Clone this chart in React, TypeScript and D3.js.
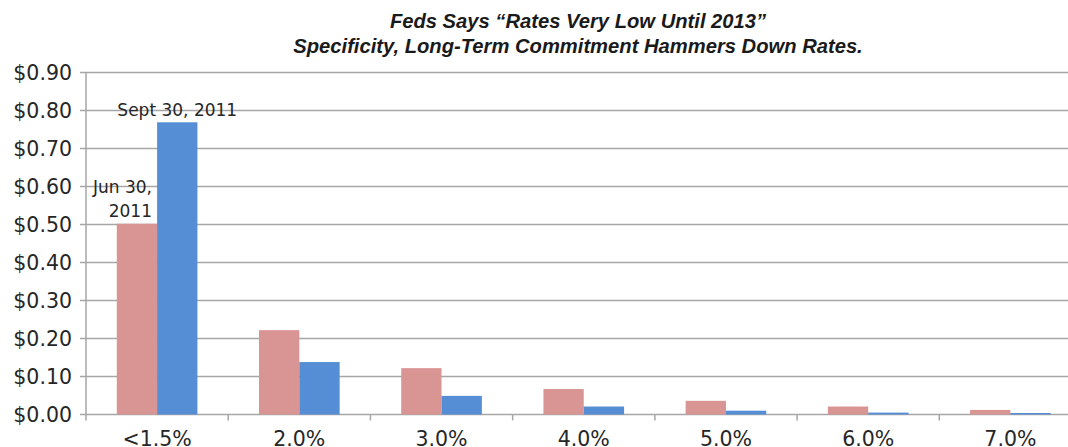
import React from "react";
import * as d3 from "d3";

const categories = ["<1.5%", "2.0%", "3.0%", "4.0%", "5.0%", "6.0%", "7.0%"];
const jun30 = [0.502, 0.222, 0.122, 0.067, 0.036, 0.021, 0.012];
const sep30 = [0.769, 0.138, 0.049, 0.021, 0.01, 0.005, 0.004];
const yTicks = [0, 0.1, 0.2, 0.3, 0.4, 0.5, 0.6, 0.7, 0.8, 0.9];
const titleLines = [
  "Feds Says \u201cRates Very Low Until 2013\u201d",
  "Specificity, Long-Term Commitment Hammers Down Rates.",
];

const W = 1068;
const H = 447;
const left = 86;
const right = 1081.5;
const top = 72.5;
const bottom = 414.5;

export default function App() {
  const x = d3.scaleBand<string>().domain(categories).range([left, right]).padding(0);
  const y = d3.scaleLinear().domain([0, 0.9]).range([bottom, top]);
  const bw = x.bandwidth();
  const barW = bw * 0.2835;
  const off = (bw - 2 * barW) / 2;
  const font = "'DejaVu Sans', sans-serif";
  const gridColor = "#a6a6a6";

  return (
    <svg width={W} height={H} style={{ position: "absolute", left: 0, top: 0, background: "#fff" }}>
      <rect x={0} y={0} width={W} height={H} fill="#fff" />
      {titleLines.map((t, i) => (
        <text
          key={i}
          x={578}
          y={i === 0 ? 28 : 53}
          textAnchor="middle"
          fontFamily="'Liberation Sans', Arial, sans-serif"
          fontStyle="italic"
          fontWeight={700}
          fontSize={20.2}
          fill="#1a1a1a"
        >
          {t}
        </text>
      ))}
      {yTicks.map((t) => (
        <g key={t}>
          <line x1={left - 6} x2={W} y1={y(t)} y2={y(t)} stroke={gridColor} strokeWidth={1.5} />
          <text
            x={72}
            y={y(t) + 7.5}
            textAnchor="end"
            fontFamily={font}
            fontSize={20.5}
            fill="#262626"
          >
            {"$" + t.toFixed(2)}
          </text>
        </g>
      ))}
      <line x1={left} x2={left} y1={top} y2={bottom + 6} stroke={gridColor} strokeWidth={1.5} />
      {categories.map((c, i) => (
        <g key={c}>
          {i > 0 && (
            <line
              x1={x(c)!}
              x2={x(c)!}
              y1={bottom}
              y2={bottom + 6}
              stroke={gridColor}
              strokeWidth={1.5}
            />
          )}
          <rect
            x={x(c)! + off}
            y={y(jun30[i])}
            width={barW}
            height={bottom - y(jun30[i])}
            fill="#d99594"
          />
          <rect
            x={x(c)! + off + barW}
            y={y(sep30[i])}
            width={barW}
            height={bottom - y(sep30[i])}
            fill="#558ed5"
          />
          <text
            x={x(c)! + bw / 2}
            y={446}
            textAnchor="middle"
            fontFamily={font}
            fontSize={20.5}
            fill="#262626"
          >
            {c}
          </text>
        </g>
      ))}
      <text
        x={x(categories[0])! + off + barW * 1.5}
        y={116}
        textAnchor="middle"
        fontFamily={font}
        fontSize={17}
        fill="#262626"
      >
        Sept 30, 2011
      </text>
      <text x={152} y={193} textAnchor="end" fontFamily={font} fontSize={17} fill="#262626">
        Jun 30,
      </text>
      <text x={152} y={216.5} textAnchor="end" fontFamily={font} fontSize={17} fill="#262626">
        2011
      </text>
    </svg>
  );
}
